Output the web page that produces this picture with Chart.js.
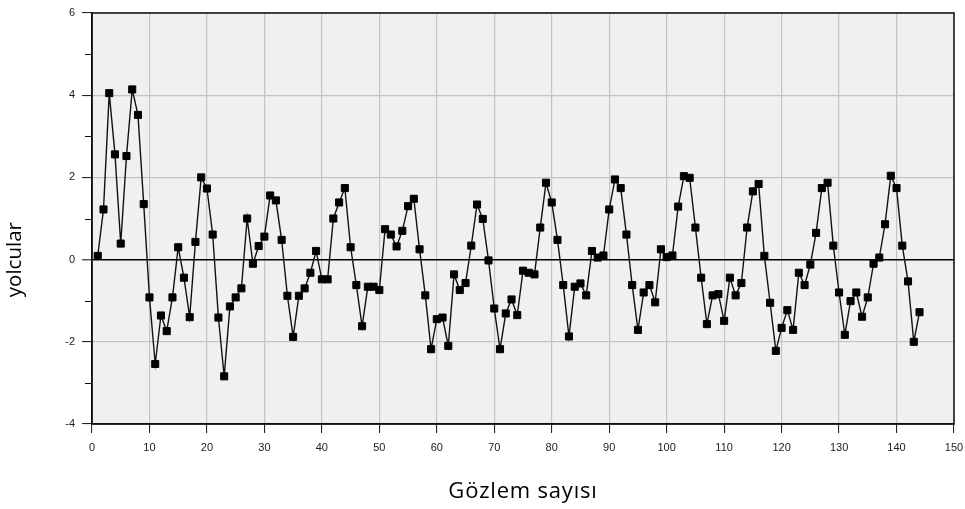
<!DOCTYPE html>
<html lang="tr">
<head>
<meta charset="utf-8">
<title>yolcular</title>
<script src="https://cdn.jsdelivr.net/npm/chart.js@4.4.1/dist/chart.umd.min.js"></script>
<style>
  html, body { margin: 0; padding: 0; background: #fff; }
  #wrap { width: 965px; height: 509px; position: relative; }
</style>
</head>
<body>
<div id="wrap"><canvas id="seriesChart"></canvas></div>
<script>
// observations 1..144
const yolcular = [
  0.09, 1.22, 4.05, 2.56, 0.39, 2.52, 4.14, 3.52, 1.35, -0.92,
  -2.54, -1.36, -1.74, -0.92, 0.30, -0.44, -1.40, 0.43, 2.00, 1.73,
  0.61, -1.41, -2.84, -1.14, -0.92, -0.70, 1.00, -0.10, 0.33, 0.56,
  1.56, 1.44, 0.48, -0.88, -1.88, -0.88, -0.70, -0.32, 0.21, -0.48,
  -0.48, 1.00, 1.39, 1.74, 0.30, -0.62, -1.62, -0.66, -0.66, -0.74,
  0.74, 0.61, 0.32, 0.70, 1.30, 1.48, 0.25, -0.87, -2.18, -1.45,
  -1.41, -2.10, -0.36, -0.74, -0.57, 0.34, 1.34, 0.99, -0.02, -1.19,
  -2.18, -1.31, -0.97, -1.35, -0.27, -0.32, -0.36, 0.78, 1.87, 1.39,
  0.48, -0.62, -1.87, -0.66, -0.58, -0.87, 0.21, 0.05, 0.10, 1.22,
  1.95, 1.74, 0.61, -0.62, -1.71, -0.80, -0.62, -1.04, 0.25, 0.06,
  0.10, 1.29, 2.03, 1.99, 0.78, -0.44, -1.57, -0.87, -0.84, -1.49,
  -0.44, -0.87, -0.57, 0.78, 1.66, 1.84, 0.09, -1.05, -2.22, -1.66,
  -1.23, -1.71, -0.32, -0.62, -0.12, 0.65, 1.74, 1.87, 0.34, -0.80,
  -1.83, -1.01, -0.80, -1.39, -0.92, -0.10, 0.05, 0.86, 2.04, 1.74,
  0.34, -0.53, -2.00, -1.28
];

const xRange = [0, 150];
const yRange = [-4, 6];
const xStep = 10;
const yStep = 2;
const yMinorTicks = [-3, -1, 1, 3, 5];

const yTitle = "yolcular";
const xTitle = "Gözlem sayısı";

const tickFont = { family: "Liberation Sans", size: 11 };

// grey plot background, frame, minor y ticks and the axis titles
const plotFrame = {
  id: "plotFrame",
  beforeDraw(chart) {
    const { ctx, chartArea: a } = chart;
    ctx.save();
    ctx.fillStyle = "#f0f0f0";
    ctx.fillRect(a.left, a.top, a.right - a.left, a.bottom - a.top);
    ctx.restore();
  },
  beforeDatasetsDraw(chart) {
    const { ctx, chartArea: a } = chart;
    const yScale = chart.scales.y;
    ctx.save();
    ctx.strokeStyle = "#111";
    ctx.lineWidth = 1.5;
    ctx.strokeRect(a.left, a.top, a.right - a.left, a.bottom - a.top);

    ctx.lineWidth = 1;
    ctx.beginPath();
    yMinorTicks.forEach((v) => {
      const py = Math.round(yScale.getPixelForValue(v)) + 0.5;
      ctx.moveTo(a.left - 7, py);
      ctx.lineTo(a.left, py);
    });
    ctx.stroke();

    ctx.fillStyle = "#000";
    ctx.textAlign = "center";
    ctx.textBaseline = "middle";

    ctx.font = "22px 'Open Sans'";
    ctx.letterSpacing = "0.8px";
    ctx.fillText(xTitle, (a.left + a.right) / 2, 492);

    ctx.font = "20.5px 'Open Sans'";
    ctx.letterSpacing = "0px";
    ctx.translate(15, yScale.getPixelForValue(0));
    ctx.rotate(-Math.PI / 2);
    ctx.fillText(yTitle, 0, 0);
    ctx.restore();
  }
};

new Chart(document.getElementById("seriesChart"), {
  type: "line",
  data: {
    datasets: [
      {
        label: yTitle,
        data: yolcular.map((v, i) => ({ x: i + 1, y: v })),
        borderColor: "#111",
        borderWidth: 1.4,
        backgroundColor: "#000",
        pointStyle: "rect",
        pointRadius: 5,
        pointBorderWidth: 1,
        pointBorderColor: "#000",
        pointBackgroundColor: "#000",
        tension: 0,
        fill: false
      }
    ]
  },
  options: {
    responsive: true,
    maintainAspectRatio: false,
    animation: false,
    layout: { padding: { left: 0, right: 11, top: 13, bottom: 0 } },
    plugins: {
      legend: { display: false },
      tooltip: { enabled: false }
    },
    scales: {
      x: {
        type: "linear",
        min: xRange[0],
        max: xRange[1],
        afterFit(scale) {
          scale.height = 85;
          scale.paddingLeft = 0;
          scale.paddingRight = 0;
        },
        ticks: {
          stepSize: xStep,
          padding: 8,
          color: "#222",
          font: tickFont,
          maxRotation: 0
        },
        grid: {
          color: "#c4c4c4",
          lineWidth: 1.2,
          tickColor: "#111",
          tickLength: 9,
          tickWidth: 1
        },
        border: { color: "#111", width: 1.5 }
      },
      y: {
        type: "linear",
        min: yRange[0],
        max: yRange[1],
        afterFit(scale) {
          scale.width = 92;
          scale.paddingTop = 0;
          scale.paddingBottom = 0;
        },
        ticks: {
          stepSize: yStep,
          padding: 7,
          color: "#222",
          font: tickFont
        },
        grid: {
          color: (c) => (c.tick && c.tick.value === 0 ? "#000" : "#c4c4c4"),
          lineWidth: (c) => (c.tick && c.tick.value === 0 ? 1.6 : 1.2),
          tickColor: "#111",
          tickLength: 10,
          tickWidth: 1
        },
        border: { color: "#111", width: 1.5 }
      }
    }
  },
  plugins: [plotFrame]
});
</script>
</body>
</html>
